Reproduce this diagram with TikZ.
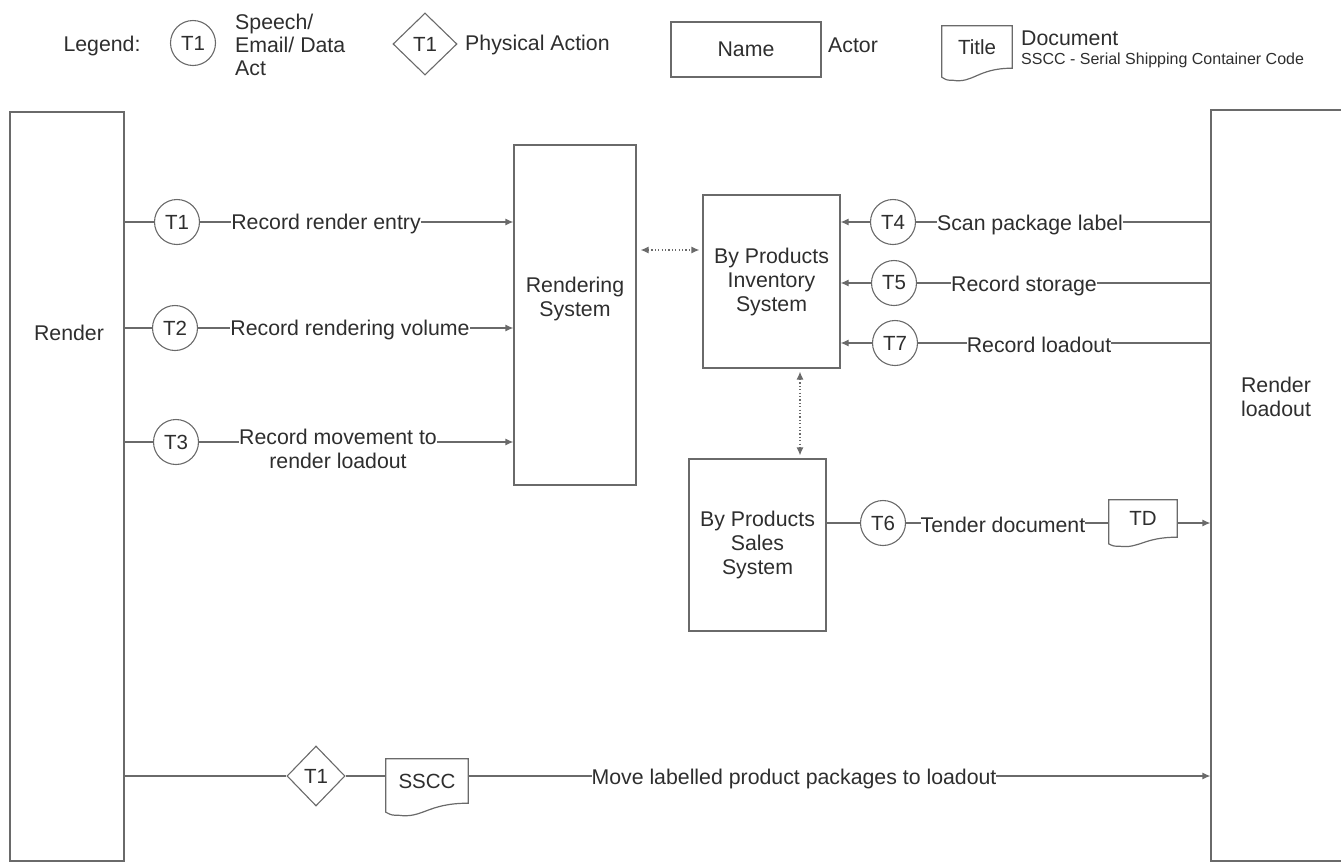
\documentclass[tikz,border=0pt]{standalone}
\usepackage{fontspec}
\setmainfont{Liberation Sans}
\usetikzlibrary{shapes.geometric,arrows.meta,calc}
\definecolor{lncol}{HTML}{6A6A6A}
\definecolor{txtcol}{HTML}{2E2E2E}
\newcommand\docoutline[2]{%
  \draw[ln] let \p1=(#1.south west), \p2=(#1.north east) in
    (\x1,\y2) -- (\x2,\y2) -- (\x2,\y1)
    .. controls (\x2-0.5*\x2+0.5*\x1,\y1) and (\x1+0.45*\x2-0.45*\x1,\y1-1.3*#2) ..
    (\x1+0.15*\x2-0.15*\x1,\y1-#2)
    .. controls (\x1+0.07*\x2-0.07*\x1,\y1-#2) .. (\x1,\y1-0.75*#2) -- cycle;}
\begin{document}
\begin{tikzpicture}[x=1pt,y=-1pt,
  ln/.style={draw=lncol,line width=1.2pt},
  arr/.style={ln,-{Latex[length=8pt,width=7pt]}},
  dots/.style={ln,dash pattern=on 1.2pt off 2.2pt,{Latex[length=8pt,width=7pt]}-{Latex[length=8pt,width=7pt]}},
  txt/.style={text=txtcol,font=\fontsize{21.3}{24}\selectfont,inner sep=0pt,align=center},
  smalltxt/.style={text=txtcol,font=\fontsize{16}{18}\selectfont,inner sep=0pt},
  lbl/.style={txt,fill=white},
  actorbox/.style={rectangle,ln,inner sep=0pt},
  tcircle/.style={circle,ln,line width=1.1pt,fill=white,minimum size=45pt,inner sep=0pt,text=txtcol,font=\fontsize{20.5}{22}\selectfont},
  tdiam/.style={diamond,ln,line width=1.1pt,fill=white,inner sep=0pt,text=txtcol,font=\fontsize{20.5}{22}\selectfont},
  docnode/.style={rectangle,draw=none,inner sep=0pt,text=txtcol,font=\fontsize{20.5}{22}\selectfont}]
\useasboundingbox (0,0) rectangle (1341,863);

% ---------------- legend ----------------
\node[txt] (leg) at (102,46) {Legend:};
\node[tcircle] (lt1) at (193,43) {T1};
\node[txt,anchor=west,align=left,font=\fontsize{21.3}{23}\selectfont] (lspeech) at (235,45) {Speech/\\Email/ Data\\Act};
\node[tdiam,minimum width=64pt,minimum height=62pt] (ld1) at (425,44) {T1};
\node[txt,anchor=west] (lphys) at (465,45) {Physical Action};
\node[actorbox,minimum width=150pt,minimum height=55pt,txt] (lname) at (746,49.5) {Name};
\node[txt,anchor=west] (lactor) at (828,45) {Actor};
\node[docnode,minimum width=70pt,minimum height=42pt] (ldoc) at (977,47) {Title};
\docoutline{ldoc}{12pt}
\node[txt,anchor=west] (ldocument) at (1021,38) {Document};
\node[smalltxt,anchor=west] (lsscc) at (1021,60) {SSCC - Serial Shipping Container Code};

% ---------------- actors ----------------
\node[actorbox,minimum width=114pt,minimum height=749pt] (render) at (67,486.5) {};
\node[txt] (renderlbl) at (69,333) {Render};
\node[actorbox,minimum width=136pt,minimum height=751pt] (loadout) at (1279,485.5) {};
\node[txt] (loadoutlbl) at (1276,397) {Render\\loadout};

\node[actorbox,minimum width=122pt,minimum height=340pt] (rendering) at (575,315) {};
\node[txt] (renderingtxt) at (575,298.5) {Rendering\\System};
\node[actorbox,minimum width=137pt,minimum height=173pt,txt] (inventory) at (771.5,281.5) {By Products\\Inventory\\System};
\node[actorbox,minimum width=137pt,minimum height=172pt,txt] (sales) at (757.5,545) {By Products\\Sales\\System};

% ---------------- left transactions ----------------
\node[tcircle] (t1) at (177,222) {T1};
\node[tcircle] (t2) at (175,328) {T2};
\node[tcircle] (t3) at (176,442) {T3};
\draw[ln] (render.east |- t1) -- (t1);
\draw[arr] (t1) -- (rendering.west |- t1);
\node[lbl] (l1) at (326,224) {Record render entry};
\draw[ln] (render.east |- t2) -- (t2);
\draw[arr] (t2) -- (rendering.west |- t2);
\node[lbl] (l2) at (350,330) {Record rendering volume};
\draw[ln] (render.east |- t3) -- (t3);
\draw[arr] (t3) -- (rendering.west |- t3);
\node[lbl,align=center] (l3) at (338,449) {Record movement to\\render loadout};

% ---------------- right transactions ----------------
\node[tcircle] (t4) at (893,222) {T4};
\node[tcircle] (t5) at (894,283) {T5};
\node[tcircle] (t7) at (895,343) {T7};
\draw[ln] (loadout.west |- t4) -- (t4);
\draw[arr] (t4) -- (inventory.east |- t4);
\node[lbl] (l4) at (1030,225) {Scan package label};
\draw[ln] (loadout.west |- t5) -- (t5);
\draw[arr] (t5) -- (inventory.east |- t5);
\node[lbl] (l5) at (1024,286) {Record storage};
\draw[ln] (loadout.west |- t7) -- (t7);
\draw[arr] (t7) -- (inventory.east |- t7);
\node[lbl] (l7) at (1039,345) {Record loadout};

% ---------------- system links ----------------
\draw[dots] ($(rendering.east |- 0,250)+(4pt,0pt)$) -- ($(inventory.west |- 0,250)+(-3pt,0pt)$);
\draw[dots] ($(inventory.south -| 800,0)+(0pt,-3pt)$) -- ($(sales.north -| 800,0)+(0pt,3pt)$);

% ---------------- tender ----------------
\node[tcircle] (t6) at (883,523) {T6};
\node[docnode,minimum width=68pt,minimum height=37pt] (td) at (1143,518.5) {TD};
\docoutline{td}{9pt}
\draw[ln] (sales.east |- t6) -- (t6);
\draw[ln] (t6) -- (td.west |- t6);
\draw[arr] (td.east |- t6) -- (loadout.west |- t6);
\node[lbl] (l6) at (1003,525) {Tender document};

% ---------------- physical move ----------------
\node[tdiam,minimum width=58pt,minimum height=60pt] (d1) at (316,776) {T1};
\node[docnode,minimum width=82pt,minimum height=44pt] (sscc) at (427,781) {SSCC};
\docoutline{sscc}{12pt}
\draw[ln] (render.east |- d1) -- (d1);
\draw[ln] (d1) -- (sscc.west |- d1);
\draw[arr] (sscc.east |- d1) -- (loadout.west |- d1);
\node[lbl] (lmove) at (794,779) {Move labelled product packages to loadout};
\end{tikzpicture}
\end{document}
